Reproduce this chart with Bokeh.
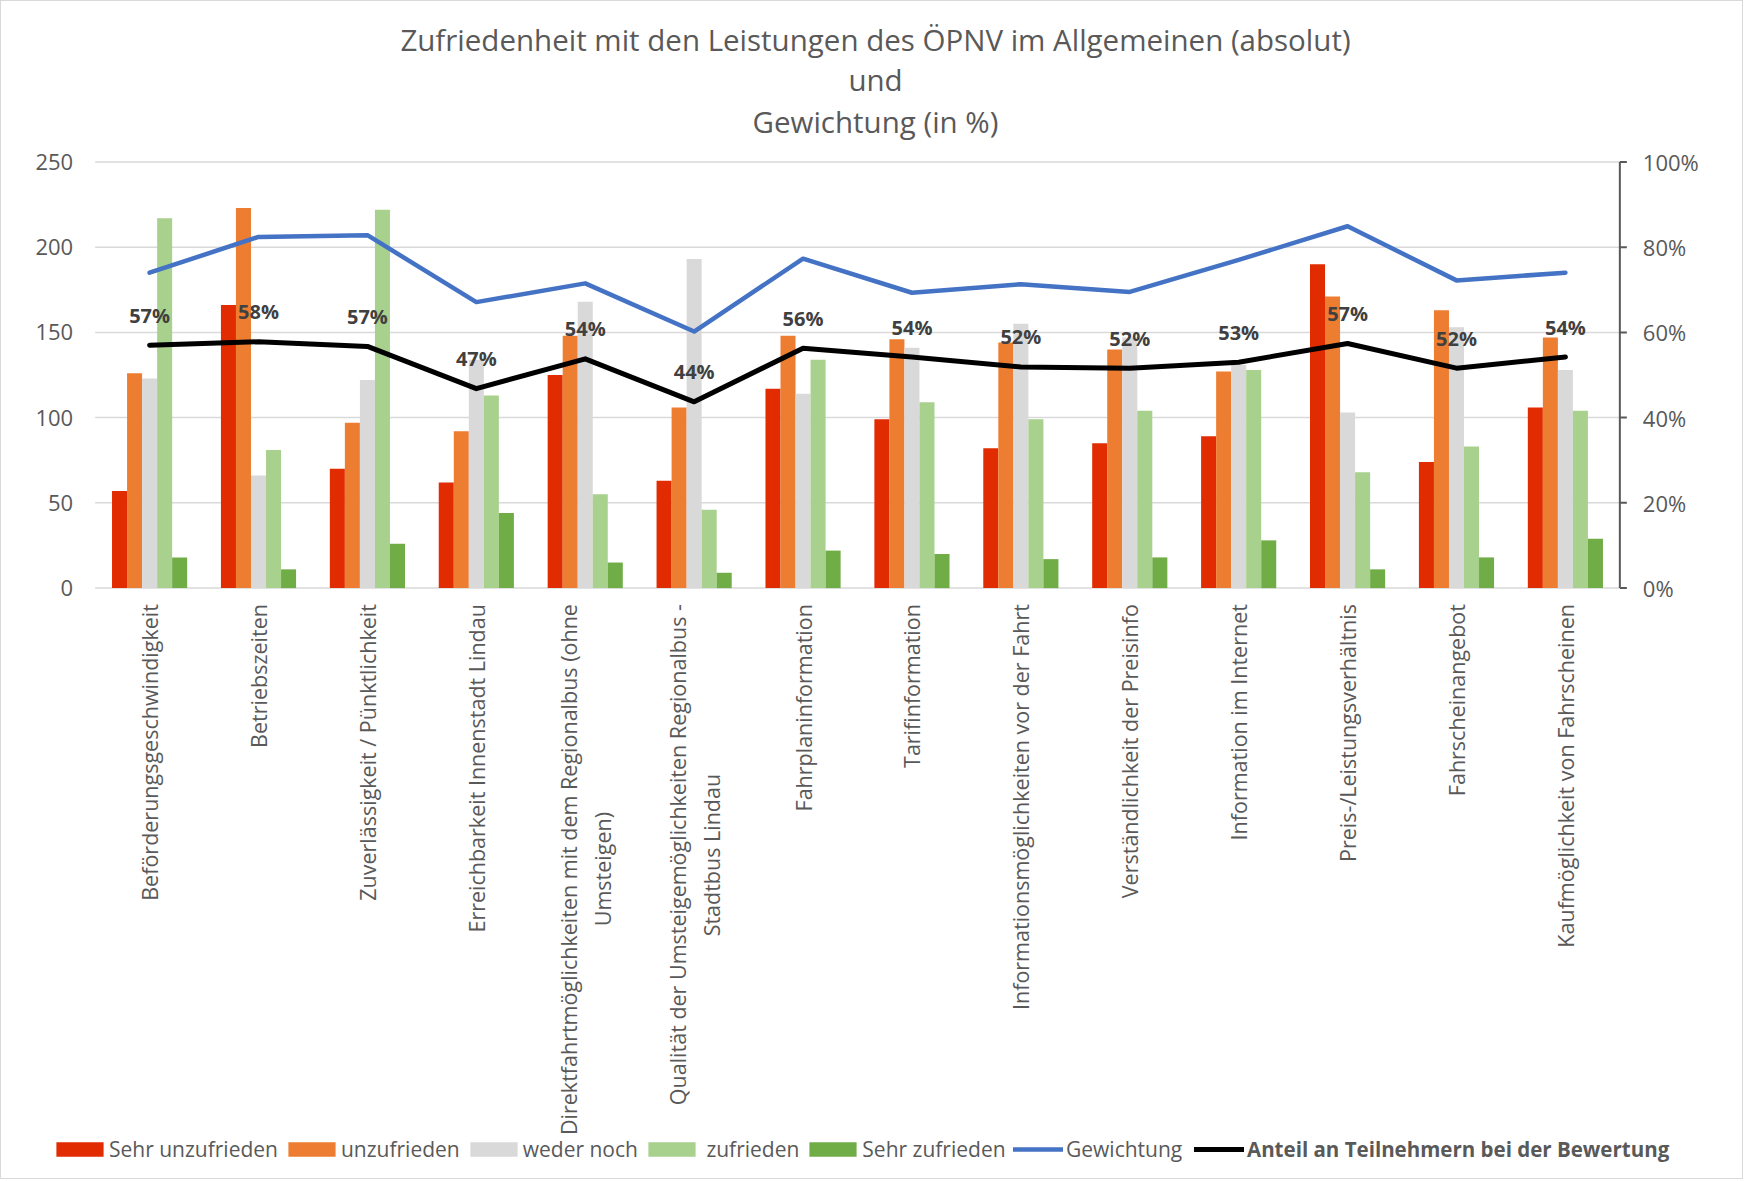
from math import pi
from bokeh.plotting import figure
from bokeh.models import (ColumnDataSource, FactorRange, Range1d, Legend, LegendItem, Label)
from bokeh.transform import dodge
from bokeh.core.properties import value
from bokeh.embed import file_html
from bokeh.resources import INLINE

# ---------------- data ----------------
categories = [
    "Beförderungsgeschwindigkeit",
    "Betriebszeiten",
    "Zuverlässigkeit / Pünktlichkeit",
    "Erreichbarkeit Innenstadt Lindau",
    "Direktfahrtmöglichkeiten mit dem Regionalbus (ohne Umsteigen)",
    "Qualität der Umsteigemöglichkeiten Regionalbus - Stadtbus Lindau",
    "Fahrplaninformation",
    "Tarifinformation",
    "Informationsmöglichkeiten vor der Fahrt",
    "Verständlichkeit der Preisinfo",
    "Information im Internet",
    "Preis-/Leistungsverhältnis",
    "Fahrscheinangebot",
    "Kaufmöglichkeit von Fahrscheinen",
]
# category label lines as printed on the chart
label_lines = [
    ["Beförderungsgeschwindigkeit"],
    ["Betriebszeiten"],
    ["Zuverlässigkeit / Pünktlichkeit"],
    ["Erreichbarkeit Innenstadt Lindau"],
    ["Direktfahrtmöglichkeiten mit dem Regionalbus (ohne", "Umsteigen)"],
    ["Qualität der Umsteigemöglichkeiten Regionalbus -", "Stadtbus Lindau"],
    ["Fahrplaninformation"],
    ["Tarifinformation"],
    ["Informationsmöglichkeiten vor der Fahrt"],
    ["Verständlichkeit der Preisinfo"],
    ["Information im Internet"],
    ["Preis-/Leistungsverhältnis"],
    ["Fahrscheinangebot"],
    ["Kaufmöglichkeit von Fahrscheinen"],
]
sehr_unzufrieden = [57, 166, 70, 62, 125, 63, 117, 99, 82, 85, 89, 190, 74, 106]
unzufrieden      = [126, 223, 97, 92, 148, 106, 148, 146, 144, 140, 127, 171, 163, 147]
weder_noch       = [123, 66, 122, 134, 168, 193, 114, 141, 155, 147, 131, 103, 153, 128]
zufrieden        = [217, 81, 222, 113, 55, 46, 134, 109, 99, 104, 128, 68, 83, 104]
sehr_zufrieden   = [18, 11, 26, 44, 15, 9, 22, 20, 17, 18, 28, 11, 18, 29]
gewichtung       = [0.740, 0.824, 0.828, 0.671, 0.715, 0.602, 0.773, 0.693, 0.713, 0.695, 0.770, 0.849, 0.722, 0.740]
anteil           = [0.570, 0.578, 0.567, 0.468, 0.538, 0.437, 0.563, 0.542, 0.519, 0.516, 0.530, 0.574, 0.516, 0.542]

series_names = ["Sehr unzufrieden", "unzufrieden", "weder noch", " zufrieden", "Sehr zufrieden"]
series_keys = ["su", "u", "w", "z", "sz"]
series_colors = ["#E12B00", "#ED7D31", "#D9D9D9", "#A9D18E", "#70AD47"]
left_ticks = [0, 50, 100, 150, 200, 250]
right_ticks = [0, 0.2, 0.4, 0.6, 0.8, 1.0]
title_lines = ["Zufriedenheit mit den Leistungen des ÖPNV im Allgemeinen (absolut)", "und", "Gewichtung (in %)"]

FONT = "Open Sans"
GREY = "#595959"

src = ColumnDataSource(dict(
    cat=categories, su=sehr_unzufrieden, u=unzufrieden, w=weder_noch, z=zufrieden, sz=sehr_zufrieden,
    gew=gewichtung, ant=anteil, antlab=["{:.0f}%".format(v * 100) for v in anteil],
))

# ---------------- layout (pixels) ----------------
W, H = 1743, 1179
MBR = 31              # empty strip on the right
PW = 1524.7           # plot area width
PAD = (W - MBR - PW) / 2   # plot area left offset
PY0 = 586.6           # canvas y of value 0
PY1 = 160.4           # canvas y of value 250
n = len(categories)
step = PW / n
ppu = (PY0 - PY1) / 250.0
y_lo = -(H - PY0) / ppu
y_hi = 250 + PY1 / ppu

p = figure(width=W, height=H,
           x_range=FactorRange(*categories, range_padding=PAD / step, range_padding_units="absolute"),
           y_range=Range1d(y_lo, y_hi), output_backend="svg", toolbar_location=None,
           x_axis_location=None, y_axis_location=None, min_border=0, min_border_right=MBR)
p.extra_y_ranges = {"pct": Range1d(y_lo / 250, y_hi / 250)}
p.outline_line_color = None
p.background_fill_color = "white"
p.border_fill_color = "white"
p.grid.visible = False
p.styles = {"border": "1px solid #D9D9D9"}

# gridlines (plot area spans synthetic x 0..n)
p.segment(x0=[0] * len(left_ticks), x1=[n] * len(left_ticks), y0=left_ticks, y1=left_ticks,
          line_color="#D9D9D9", line_width=1.5)
# left tick labels
p.text(x=[0] * len(left_ticks), y=left_ticks, text=[str(t) for t in left_ticks], x_offset=-22,
       text_align="right", text_baseline="middle", text_font=value(FONT),
       text_font_size="22px", text_color=GREY)
# right axis
p.segment(x0=[n], x1=[n], y0=[0], y1=[1], y_range_name="pct", line_color=GREY, line_width=2)
p.ray(x=[n] * len(right_ticks), y=right_ticks, length=7, length_units="screen", angle=0,
      y_range_name="pct", line_color=GREY, line_width=2)
p.text(x=[n] * len(right_ticks), y=right_ticks, text=["{:.0f}%".format(t * 100) for t in right_ticks],
       x_offset=23, y_range_name="pct", text_align="left", text_baseline="middle",
       text_font=value(FONT), text_font_size="22px", text_color=GREY)

# ---------------- bars ----------------
bw = 0.138
bar_renderers = []
for i, (k, c) in enumerate(zip(series_keys, series_colors)):
    r = p.vbar(x=dodge("cat", (i - 2) * bw, range=p.x_range), top=k, width=bw, source=src,
               fill_color=c, line_color=None)
    bar_renderers.append(r)

# ---------------- lines ----------------
blue = p.line(x="cat", y="gew", source=src, y_range_name="pct", line_color="#4472C4",
              line_width=4.5, line_join="round", line_cap="round")
black = p.line(x="cat", y="ant", source=src, y_range_name="pct", line_color="black",
               line_width=5, line_join="round", line_cap="round")
p.text(x="cat", y="ant", text="antlab", source=src, y_range_name="pct", y_offset=-30,
       text_align="center", text_baseline="middle", text_font=value(FONT),
       text_font_size="20px", text_font_style="bold", text_color="#404040")

# ---------------- category labels ----------------
first = dict(x=[], t=[], xo=[])
second = dict(x=[], t=[], xo=[], yo=[])
second_center = {4: 281, 5: 267}
for i, lines in enumerate(label_lines):
    if len(lines) == 1:
        first["x"].append(categories[i]); first["t"].append(lines[0]); first["xo"].append(0)
    else:
        first["x"].append(categories[i]); first["t"].append(lines[0]); first["xo"].append(-17)
        second["x"].append(categories[i]); second["t"].append(lines[1]); second["xo"].append(17)
        second["yo"].append(second_center[i])
p.text(x="x", y=0, text="t", x_offset="xo", y_offset=16, source=ColumnDataSource(first),
       angle=pi / 2, text_align="right", text_baseline="middle", text_font=value(FONT),
       text_font_size="21.5px", text_color=GREY)
p.text(x="x", y=0, text="t", x_offset="xo", y_offset="yo", source=ColumnDataSource(second),
       angle=pi / 2, text_align="center", text_baseline="middle", text_font=value(FONT),
       text_font_size="21.5px", text_color=GREY)

# ---------------- title ----------------
title_base = [38, 78, 120]   # canvas baselines
for t, yy in zip(title_lines, title_base):
    p.add_layout(Label(x=874, y=H - yy, x_units="screen", y_units="screen", text=t,
                       text_align="center", text_baseline="alphabetic", text_font=FONT,
                       text_font_size="29.5px", text_color=GREY))

# ---------------- legends ----------------
common = dict(orientation="horizontal", glyph_height=18, padding=0, margin=0,
              border_line_color=None, background_fill_alpha=0,
              label_text_font=FONT, label_text_color=GREY)
LEG_Y = 17
leg_bars = Legend(items=[LegendItem(label=nm, renderers=[r]) for nm, r in zip(series_names, bar_renderers)],
                  location=(49, LEG_Y), glyph_width=59, label_standoff=0, spacing=4,
                  label_text_font_size="21px", **common)
leg_blue = Legend(items=[LegendItem(label="Gewichtung", renderers=[blue])],
                  location=(1012, LEG_Y), glyph_width=50, label_standoff=3,
                  label_text_font_size="21px", **common)
leg_black = Legend(items=[LegendItem(label="Anteil an Teilnehmern bei der Bewertung", renderers=[black])],
                   location=(1193, LEG_Y), glyph_width=50, label_standoff=3,
                   label_text_font_size="20.5px", label_text_font_style="bold", **common)
for lg in (leg_bars, leg_blue, leg_black):
    p.add_layout(lg, "center")

open("out.html", "w").write(file_html(p, INLINE))
